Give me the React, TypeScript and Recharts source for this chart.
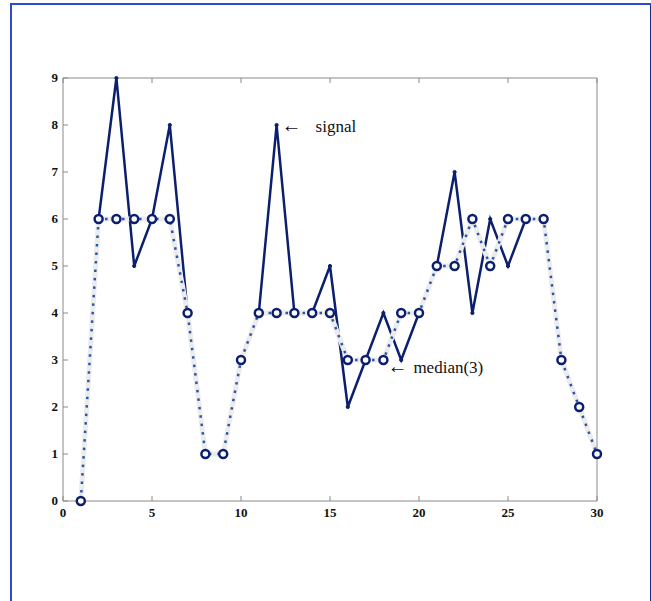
import { LineChart, Line, XAxis, YAxis, ReferenceDot } from 'recharts'

// sample index 1..30
const samples = [1, 2, 3, 4, 5, 6, 7, 8, 9, 10, 11, 12, 13, 14, 15, 16, 17, 18, 19, 20, 21, 22, 23, 24, 25, 26, 27, 28, 29, 30]
const signal = [0, 6, 9, 5, 6, 8, 4, 1, 1, 3, 4, 8, 4, 4, 5, 2, 3, 4, 3, 4, 5, 7, 4, 6, 5, 6, 6, 3, 2, 1]
const median3 = [0, 6, 6, 6, 6, 6, 4, 1, 1, 3, 4, 4, 4, 4, 4, 3, 3, 3, 4, 4, 5, 5, 6, 5, 6, 6, 6, 3, 2, 1]
const xTicks = [0, 5, 10, 15, 20, 25, 30]
const yTicks = [0, 1, 2, 3, 4, 5, 6, 7, 8, 9]

const data = samples.map((x, i) => ({ x, signal: signal[i], median: median3[i] }))

const NAVY = '#0c1f6e'
const AXIS = '#8a8a8a'
const FONT = '"Liberation Serif", "Times New Roman", serif'

const BottomTick = ({ x, y, payload }: any) => (
    <g>
        <line x1={x} x2={x} y1={y} y2={y - 5} stroke={AXIS} />
        <text x={x} y={y + 16} textAnchor="middle" fontSize={13} fontWeight="bold" fontFamily={FONT} fill="#111">
            {payload.value}
        </text>
    </g>
)

const LeftTick = ({ x, y, payload }: any) => (
    <g>
        <line x1={x} x2={x + 5} y1={y} y2={y} stroke={AXIS} />
        <text x={x - 5} y={y + 4} textAnchor="end" fontSize={13} fontWeight="bold" fontFamily={FONT} fill="#111">
            {payload.value}
        </text>
    </g>
)

const TopTick = ({ x, y }: any) => <line x1={x} x2={x} y1={y} y2={y + 5} stroke={AXIS} />
const RightTick = ({ x, y }: any) => <line x1={x} x2={x - 5} y1={y} y2={y} stroke={AXIS} />

// arrow + caption next to a data point
const Note = (text: string, dx: number, dy: number, gap: number) => ({ viewBox }: any) => (
    <text x={viewBox.x + dx} y={viewBox.y + dy} fontFamily={FONT} fill="#111">
        <tspan fontSize={20}>←</tspan>
        <tspan fontSize={17} dx={gap}>{text}</tspan>
    </text>
)

export default function App() {
    return (
        <div style={{ position: 'absolute', left: 0, top: 0, width: 651, height: 601, background: '#fff' }}>
            <div
                style={{
                    position: 'absolute',
                    left: 10,
                    top: 3,
                    width: 638,
                    height: 598,
                    borderLeft: '2px solid #3048d6',
                    borderTop: '2px solid #3048d6',
                    borderRight: '2px solid #1c2c8c',
                }}
            />
            <LineChart
                width={651}
                height={601}
                data={data}
                margin={{ top: 68, right: 44, bottom: 70, left: 33 }}
                style={{ position: 'absolute', left: 0, top: 0 }}
            >
                <XAxis
                    dataKey="x"
                    type="number"
                    domain={[0, 30]}
                    ticks={xTicks}
                    height={30}
                    stroke={AXIS}
                    tickLine={false}
                    tickSize={0}
                    tickMargin={0}
                    tick={<BottomTick />}
                />
                <XAxis
                    xAxisId="top"
                    dataKey="x"
                    orientation="top"
                    type="number"
                    domain={[0, 30]}
                    ticks={xTicks}
                    height={10}
                    stroke={AXIS}
                    tickLine={false}
                    tickSize={0}
                    tickMargin={0}
                    tick={<TopTick />}
                />
                <YAxis
                    type="number"
                    domain={[0, 9]}
                    ticks={yTicks}
                    width={30}
                    stroke={AXIS}
                    tickLine={false}
                    tickSize={0}
                    tickMargin={0}
                    tick={<LeftTick />}
                />
                <YAxis
                    yAxisId="right"
                    orientation="right"
                    type="number"
                    domain={[0, 9]}
                    ticks={yTicks}
                    width={10}
                    stroke={AXIS}
                    tickLine={false}
                    tickSize={0}
                    tickMargin={0}
                    tick={<RightTick />}
                />
                <Line
                    dataKey="signal"
                    stroke={NAVY}
                    strokeWidth={2.5}
                    dot={{ r: 1.6, fill: NAVY, stroke: NAVY, strokeWidth: 1 }}
                    isAnimationActive={false}
                />
                <Line
                    dataKey="median"
                    stroke="#ececec"
                    strokeWidth={5}
                    dot={false}
                    isAnimationActive={false}
                />
                <Line
                    dataKey="median"
                    stroke="#2a56a8"
                    strokeWidth={2.5}
                    strokeDasharray="2.5 6"
                    dot={false}
                    isAnimationActive={false}
                />
                <Line
                    dataKey="median"
                    stroke="none"
                    dot={{ r: 4, fill: '#fff', stroke: NAVY, strokeWidth: 2.5 }}
                    isAnimationActive={false}
                />
                <ReferenceDot x={12} y={8} r={0} label={{ content: Note('signal', 5, 7, 14) }} />
                <ReferenceDot x={18} y={3} r={0} label={{ content: Note('median(3)', 4, 13, 6) }} />
            </LineChart>
        </div>
    )
}
